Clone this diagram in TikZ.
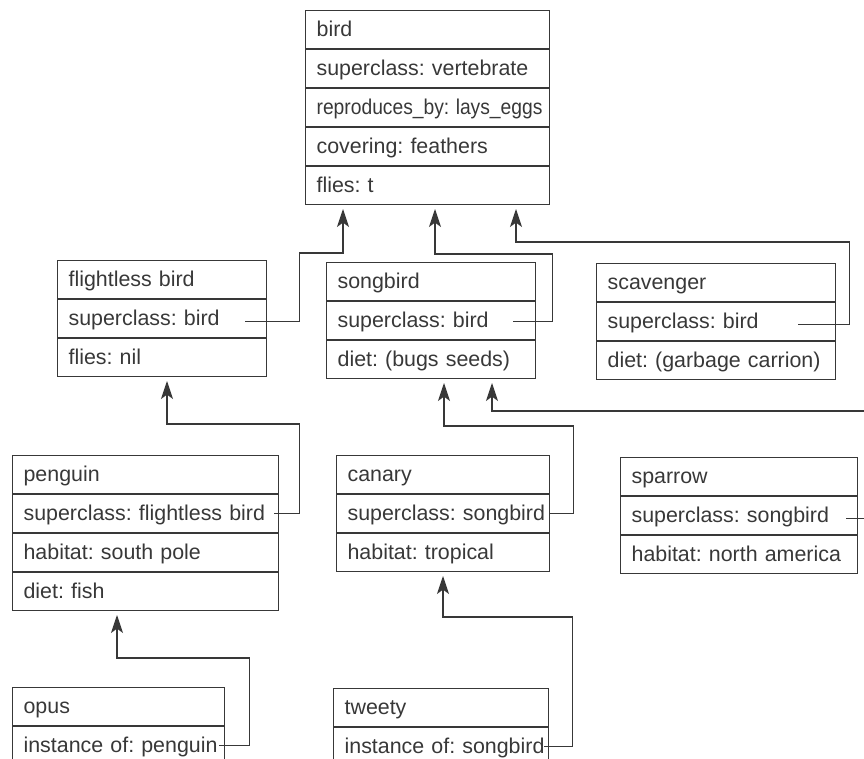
\documentclass[tikz,border=0pt]{standalone}
\usepackage{fontspec}
\setmainfont{Liberation Sans}
\usepackage{graphicx}
\usetikzlibrary{positioning,calc,arrows.meta}
\definecolor{ink}{HTML}{383838}
\frenchspacing

\begin{document}
\begin{tikzpicture}[x=0.5pt, y=-0.5pt, line width=0.6pt, color=ink,
    slot/.style={draw, rectangle, anchor=north west, minimum width=#1, text width=#1-11pt,
        align=left, minimum height=18.9pt, inner xsep=5.5pt, inner ysep=0pt,
        text height=7.7pt, text depth=1pt, font=\fontsize{10.7}{12}\selectfont,
        execute at begin node=\hbox\bgroup, execute at end node=\egroup},
    isa/.style={-{Stealth[length=9pt, width=6pt, inset=2.2pt]}, shorten >=2pt}]
    \useasboundingbox (0,0) rectangle (864,759);
    \clip (0,0) rectangle (864,759);

          \node[slot=122pt] (bird1) at (305,10) {bird};
          \node[slot=122pt, below=0pt of bird1] (bird2) {superclass: vertebrate};
          \node[slot=122pt, below=0pt of bird2] (bird3) {\scalebox{0.9}[1]{reproduces\_by: lays\_eggs}};
          \node[slot=122pt, below=0pt of bird3] (bird4) {covering: feathers};
          \node[slot=122pt, below=0pt of bird4] (bird5) {flies: t};

          \node[slot=104.5pt] (flightless1) at (57,260) {flightless bird};
          \node[slot=104.5pt, below=0pt of flightless1] (flightless2) {superclass: bird};
          \node[slot=104.5pt, below=0pt of flightless2] (flightless3) {flies: nil};

          \node[slot=104.5pt] (songbird1) at (326,262) {songbird};
          \node[slot=104.5pt, below=0pt of songbird1] (songbird2) {superclass: bird};
          \node[slot=104.5pt, below=0pt of songbird2] (songbird3) {diet: (bugs seeds)};

          \node[slot=119.5pt] (scavenger1) at (596,263) {scavenger};
          \node[slot=119.5pt, below=0pt of scavenger1] (scavenger2) {superclass: bird};
          \node[slot=119.5pt, below=0pt of scavenger2] (scavenger3) {diet: (garbage carrion)};

          \node[slot=133pt] (penguin1) at (12,455) {penguin};
          \node[slot=133pt, below=0pt of penguin1] (penguin2) {superclass: flightless bird};
          \node[slot=133pt, below=0pt of penguin2] (penguin3) {habitat: south pole};
          \node[slot=133pt, below=0pt of penguin3] (penguin4) {diet: fish};

          \node[slot=106.5pt] (canary1) at (336,455) {canary};
          \node[slot=106.5pt, below=0pt of canary1] (canary2) {superclass: songbird};
          \node[slot=106.5pt, below=0pt of canary2] (canary3) {habitat: tropical};

          \node[slot=118.5pt] (sparrow1) at (620,457) {sparrow};
          \node[slot=118.5pt, below=0pt of sparrow1] (sparrow2) {superclass: songbird};
          \node[slot=118.5pt, below=0pt of sparrow2] (sparrow3) {habitat: north america};

          \node[slot=106pt] (opus1) at (12,687) {opus};
          \node[slot=106pt, below=0pt of opus1] (opus2) {instance of: penguin};

          \node[slot=107.5pt] (tweety1) at (333,688) {tweety};
          \node[slot=107.5pt, below=0pt of tweety1] (tweety2) {instance of: songbird};

    \draw[isa] ($(flightless2.east)+(-22,3)$) -- ++(54,0) |- ($(bird5.south west)+(38,48)$) -- ($(bird5.south west)+(38,0)$);
    \draw[isa] ($(songbird2.east)+(-23,1)$) -- ++(39,0) |- ($(bird5.south west)+(130,49)$) -- ($(bird5.south west)+(130,0)$);
    \draw[isa] ($(scavenger2.east)+(-38,3)$) -- ++(51,0) |- ($(bird5.south west)+(211,37)$) -- ($(bird5.south west)+(211,0)$);
    \draw[isa] ($(penguin2.east)+(-5,0)$) -- ++(25,0) |- ($(flightless3.south west)+(110,47)$) -- ($(flightless3.south west)+(110,0)$);
    \draw[isa] ($(canary2.east)+(-1,0)$) -- ++(24,0) |- ($(songbird3.south west)+(118,47)$) -- ($(songbird3.south west)+(118,0)$);
    \draw[isa] ($(sparrow2.east)+(-12,3)$) -- ++(30,0) |- ($(songbird3.south west)+(166,32)$) -- ($(songbird3.south west)+(166,0)$);
    \draw[isa] ($(opus2.east)+(-6,0)$) -- ++(30,0) |- ($(penguin4.south west)+(105,47)$) -- ($(penguin4.south west)+(105,0)$);
    \draw[isa] ($(tweety2.east)+(-5,0)$) -- ++(28,0) |- ($(canary3.south west)+(107,45)$) -- ($(canary3.south west)+(107,0)$);
    \end{tikzpicture}
\end{document}
